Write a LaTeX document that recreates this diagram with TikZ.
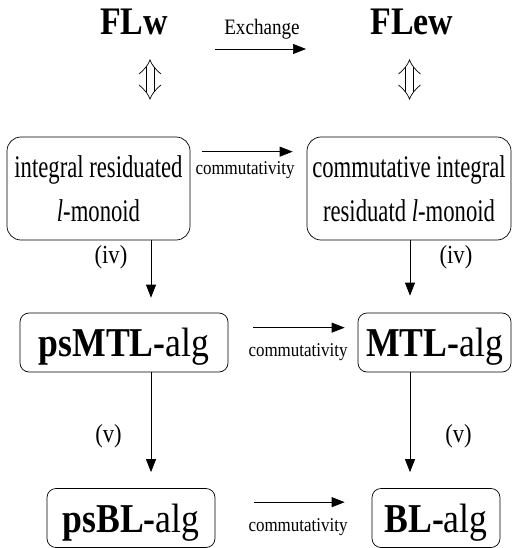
\documentclass[tikz,border=0pt]{standalone}
\usepackage{fontspec}
\setmainfont{Liberation Serif}[FakeStretch=0.87]
\newfontfamily\narrowserif{Liberation Serif}[FakeStretch=0.72]
\usetikzlibrary{arrows.meta}
\tikzset{
  algbox/.style={draw,rounded corners=9pt,line width=0.7pt,inner sep=0pt,minimum height=59pt,
    text height=31pt,text depth=3pt,font=\fontsize{41}{41}\selectfont},
  monbox/.style={draw,rounded corners=14pt,line width=0.7pt,inner sep=0pt,minimum height=103pt,
    align=center,font=\narrowserif\fontsize{31.5}{44}\selectfont},
  arr/.style={-{Triangle[length=13pt,width=10pt]},line width=0.7pt},
  lab/.style={anchor=base,inner sep=0pt,font=\fontsize{26}{26}\selectfont},
  comm/.style={anchor=base,inner sep=0pt,font=\fontsize{19.5}{19.5}\selectfont},
  logic/.style={anchor=base,inner sep=0pt,font=\fontsize{39}{39}\selectfont\bfseries},
}
\begin{document}
\begin{tikzpicture}[x=1pt,y=-1pt]
\useasboundingbox (0,0) rectangle (512,548);
\pgfmathsetmacro{\lx}{151}
\pgfmathsetmacro{\rx}{410}
%logics
\node[logic] (flw) at (134,35) {FLw};
\node[logic] (flew) at (412,35) {FLew};
\node[anchor=base,inner sep=0pt,font=\fontsize{22}{22}\selectfont] (exch) at (262,35) {Exchange};
\coordinate (ea) at (215,49);
\coordinate (eb) at (306,49);
\draw[arr] (ea)--(eb);
%equivalence signs
\foreach \cx in {150,409.5}{
  \draw[line width=0.7pt] (\cx-11,74) .. controls (\cx-5,69) and (\cx-2,65) .. (\cx,60) .. controls (\cx+2,65) and (\cx+5,69) .. (\cx+11,74);
  \draw[line width=0.7pt] (\cx-11,85) .. controls (\cx-5,90) and (\cx-2,94) .. (\cx,99) .. controls (\cx+2,94) and (\cx+5,90) .. (\cx+11,85);
  \draw[line width=0.7pt] (\cx-4,67)--(\cx-4,92) (\cx+4,67)--(\cx+4,92);
}
%monoids
\node[monbox,minimum width=183pt] (lmon) at (98.5,188.5) {integral residuated\\\textit{l}-monoid};
\node[monbox,minimum width=204pt] (clmon) at (409,188.5) {commutative integral\\residuatd \textit{l}-monoid};
%algebras
\node[algbox,minimum width=208pt] (psmtl) at (124,342.5) {\textbf{psMTL-}alg};
\node[algbox,minimum width=153pt] (mtl) at (434.5,342.5) {\textbf{MTL-}alg};
\node[algbox,minimum width=168pt] (psbl) at (131,518) {\textbf{psBL-}alg};
\node[algbox,minimum width=128pt] (bl) at (436,518) {\textbf{BL-}alg};
%commutativity arrows
\draw[arr,shorten <=12pt,shorten >=14pt] ([yshift=-15pt]lmon.north east)--([yshift=-15pt]clmon.north west);
\node[comm] (c1) at (245,175) {commutativity};
\draw[arr,shorten <=25pt,shorten >=13pt] ([yshift=-15pt]psmtl.north east)--([yshift=-15pt]mtl.north west);
\node[comm] (c2) at (298,356.7) {commutativity};
\draw[arr,shorten <=39pt,shorten >=27pt] ([yshift=-14pt]psbl.north east)--([yshift=-14pt]bl.north west);
\node[comm] (c3) at (298,531.7) {commutativity};
%down arrows
\coordinate (lc) at (\lx,0);
\coordinate (rc) at (\rx,0);
\draw[arr,shorten >=15pt] (lmon.south -| lc)--(psmtl.north -| lc);
\draw[arr,shorten >=17pt] (clmon.south -| rc)--(mtl.north -| rc);
\draw[arr,shorten >=16pt] (psmtl.south -| lc)--(psbl.north -| lc);
\draw[arr,shorten >=16pt] (mtl.south -| rc)--(bl.north -| rc);
\node[lab] (iv1) at (111,263) {(iv)};
\node[lab] (iv2) at (456,263) {(iv)};
\node[lab] (v1) at (108.5,442) {(v)};
\node[lab] (v2) at (458.5,442) {(v)};
\end{tikzpicture}
\end{document}
